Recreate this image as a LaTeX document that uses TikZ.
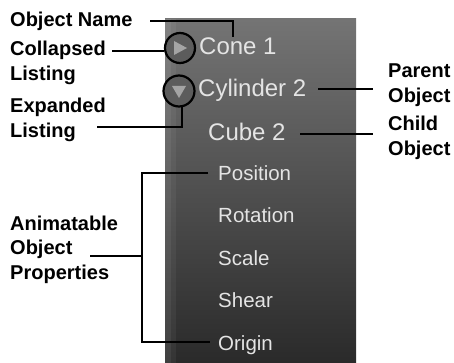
\documentclass[tikz,border=0pt]{standalone}
\usepackage{fontspec}
\setmainfont{Liberation Sans}
\usetikzlibrary{calc}
\definecolor{uitext}{HTML}{E4E4E4}
\definecolor{panTop}{HTML}{747474}
\definecolor{panBot}{HTML}{2A2A2A}
\definecolor{iconbg}{HTML}{5C5C5C}
\definecolor{icontri}{HTML}{A4A4A4}
\begin{document}
\begin{tikzpicture}[x=1pt,y=-1pt,
  lbl/.style={font=\bfseries\fontsize{20}{24.5}\selectfont, align=left, anchor=base west, inner sep=0pt},
  item/.style={text=uitext, font=\fontsize{24}{28}\selectfont, anchor=base west, inner sep=0pt},
  prop/.style={text=uitext, font=\fontsize{20.5}{24}\selectfont, anchor=base west, inner sep=0pt},
  lead/.style={line width=2.4pt, black},
  icon/.style={circle, draw=black, line width=2.2pt, minimum size=30pt, inner sep=0pt, fill=iconbg}]
\useasboundingbox (0,0) rectangle (454,363);
% panel
\shade[top color=panTop, bottom color=panBot] (165,19) rectangle (356,363);
\fill[white, opacity=0.10] (165,19) rectangle (171,363);
\fill[white, opacity=0.05] (171,19) rectangle (176,363);
% panel items
\node[item] (cone) at (199,55) {Cone 1};
\node[item] (cyl) at (198,97) {Cylinder 2};
\node[item] (cube) at (208,141) {Cube 2};
\node[prop] (pos) at (218,180) {Position};
\node[prop] (rot) at (218,222.5) {Rotation};
\node[prop] (scl) at (218,265) {Scale};
\node[prop] (shr) at (218,307.5) {Shear};
\node[prop] (org) at (218,350) {Origin};
% icons
\node[icon] (coll) at (180,48) {};
\fill[icontri] ($(coll)+(-6,-7)$) -- ($(coll)+(-6,7)$) -- ($(coll)+(7,0)$) -- cycle;
\node[icon, minimum size=31pt] (expd) at (179,91) {};
\fill[icontri] ($(expd)+(-7,-5)$) -- ($(expd)+(7,-5)$) -- ($(expd)+(0,7)$) -- cycle;
% labels (anchor = baseline of last line)
\node[lbl] (lname) at (10,27) {Object Name};
\node[lbl] (lcoll) at (10,80.5) {Collapsed\\Listing};
\node[lbl] (lexp) at (10,137.5) {Expanded\\Listing};
\node[lbl] (lpar) at (388,102.5) {Parent\\Object};
\node[lbl] (lchild) at (388,155.5) {Child\\Object};
\node[lbl] (lanim) at (10,279) {Animatable\\Object\\Properties};
% leaders
\coordinate (n1) at (150,21);
\coordinate (n2) at (233,37);
\draw[lead] (n1) -| (n2);
\coordinate (c1) at (112,51);
\draw[lead] (c1) -- (coll.west |- c1);
\coordinate (e0) at (182,105);
\coordinate (e1) at (97,127);
\draw[lead] (e0) |- (e1);
\coordinate (p1) at (318,89);
\coordinate (p2) at (373,89);
\draw[lead] (p1) -- (p2);
\coordinate (ch1) at (300,134);
\coordinate (ch2) at (373,134);
\draw[lead] (ch1) -- (ch2);
\coordinate (bk) at (142,256);
\coordinate (a1) at (90,256);
\coordinate (bt) at (208,173);
\coordinate (bb) at (210,342);
\draw[lead] (bt) -| (bk) |- (bb);
\draw[lead] (a1) -- (bk);
\end{tikzpicture}
\end{document}
